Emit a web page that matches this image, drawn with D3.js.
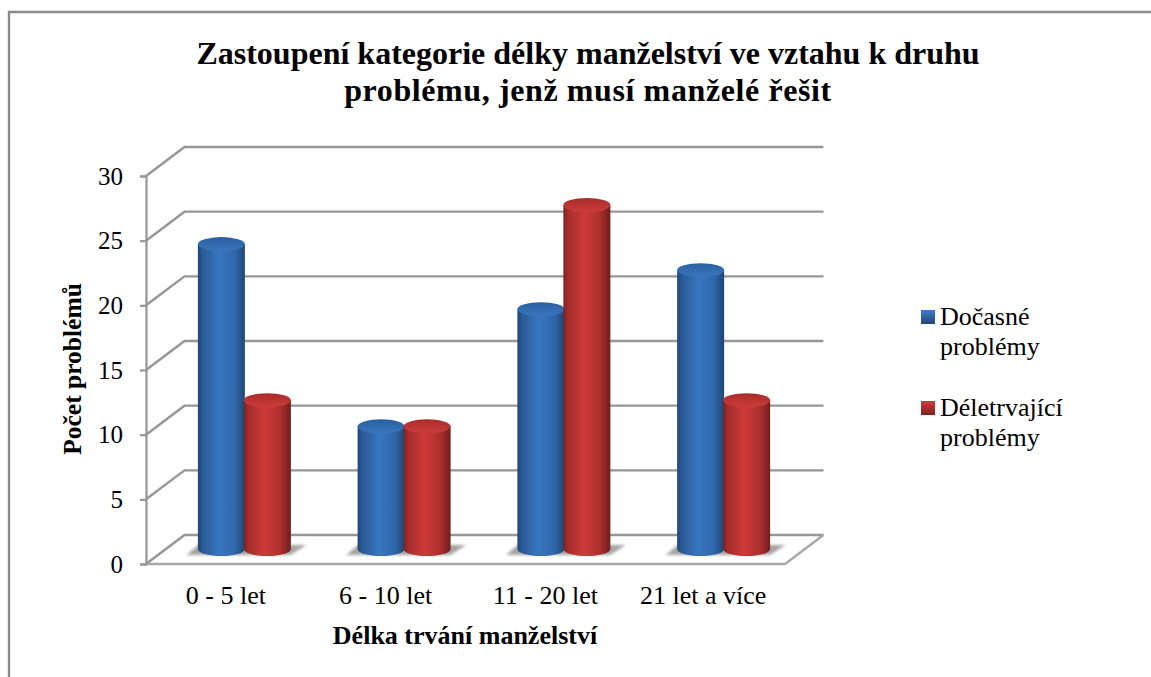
<!DOCTYPE html>
<html><head><meta charset="utf-8">
<script src="https://cdn.jsdelivr.net/npm/d3@7"></script>
<style>html,body{margin:0;padding:0;background:#fff}svg{display:block}text{font-family:"Liberation Serif",serif;fill:#000}</style>
</head><body><svg id="c" width="1151" height="677"></svg>
<script>
const categories=["0 - 5 let","6 - 10 let","11 - 20 let","21 let a více"];
const temporary=[24,10,19,22];
const lasting=[12,10,27,12];
const seriesNames=[["Dočasné","problémy"],["Déletrvající","problémy"]];
const yTicks=[0,5,10,15,20,25,30];
const titleLines=["Zastoupení kategorie délky manželství ve vztahu k druhu","problému, jenž musí manželé řešit"];

const svg=d3.select("#c");
const W=1151,H=677;
const axisX=146,axisRight=785,axisTop=176,axisBottom=564;
const depthX=38.5,depthY=-29;
const x=d3.scaleBand().domain(categories).range([axisX,axisRight]);
const y=d3.scaleLinear().domain([0,30]).range([axisBottom,axisTop]);
const barScale=d3.scaleLinear().domain([0,30]).range([556.5,166]);
const barBase=549;
const barW=47,ry=7,barShift=18.5;

const defs=svg.append("defs");
function grad(id,stops,vertical){
  const g=defs.append("linearGradient").attr("id",id);
  if(vertical)g.attr("x1",0).attr("x2",0).attr("y1",0).attr("y2",1);
  stops.forEach(([o,c])=>g.append("stop").attr("offset",o).attr("stop-color",c));
}
grad("blueBody",[[0,"#1f4677"],[.1,"#2a5a97"],[.45,"#3876c0"],[.78,"#3068aa"],[1,"#1f4675"]]);
grad("redBody",[[0,"#7c2120"],[.1,"#a42e2c"],[.45,"#cd3b39"],[.78,"#ac302e"],[1,"#701e1d"]]);
grad("blueLid",[[0,"#2a5f9f"],[1,"#3a76be"]],true);
grad("redLid",[[0,"#a82d2b"],[1,"#cc3c3a"]],true);
grad("blueKey",[[0,"#3f7cc6"],[1,"#1f4879"]],true);
grad("redKey",[[0,"#cf3d3b"],[1,"#7d2120"]],true);
const bf=defs.append("filter").attr("id","blur").attr("x","-20%").attr("y","-100%").attr("width","140%").attr("height","300%");
bf.append("feGaussianBlur").attr("stdDeviation","1.4");
defs.append("filter").attr("id","soft").append("feGaussianBlur").attr("stdDeviation","0.45");

// chart frame
svg.append("path").attr("d",`M9,${H}V12H${W}`).attr("fill","none").attr("stroke","#8a8a8a").attr("stroke-width",2.4);

// title
svg.append("g").selectAll("text").data(titleLines).join("text")
  .attr("x",588).attr("y",(d,i)=>64+i*37).attr("text-anchor","middle")
  .attr("letter-spacing",(d,i)=>i?0.6:0)
  .attr("font-size",32).attr("font-weight","bold").text(d=>d);

// gridlines (walls)
const grid=svg.append("g").attr("fill","none").attr("stroke","#969696").attr("stroke-width",2.4).attr("filter","url(#soft)");
yTicks.forEach(t=>{
  const p=d3.path();
  p.moveTo(axisX,y(t));p.lineTo(axisX+depthX,y(t)+depthY);p.lineTo(axisRight+depthX,y(t)+depthY);
  grid.append("path").attr("d",p.toString());
});
const floor=d3.path();
floor.moveTo(axisX,y(0));floor.lineTo(axisRight,y(0));floor.lineTo(axisRight+depthX,y(0)+depthY);
grid.append("path").attr("d",floor.toString()).attr("stroke","#a8a8a8");

// value axis
const yAxis=svg.append("g").attr("transform",`translate(${axisX},0)`)
  .call(d3.axisLeft(y).tickValues(yTicks).tickSize(6).tickPadding(17));
yAxis.select(".domain").attr("stroke","#969696").attr("stroke-width",2.2);
yAxis.selectAll("line").attr("stroke","#969696").attr("stroke-width",2.2);
yAxis.selectAll("text").attr("font-size",25).attr("font-family",'"Liberation Serif",serif').attr("fill","#000");

// category labels
svg.append("g").selectAll("text").data(categories).join("text")
  .attr("x",d=>x(d)+x.bandwidth()/2-(d===categories[3]?2:0)).attr("y",604)
  .attr("text-anchor","middle").attr("font-size",26).text(d=>d);

// axis titles
svg.append("text").attr("x",465).attr("y",644).attr("text-anchor","middle")
  .attr("font-size",26).attr("font-weight","bold").text("Délka trvání manželství");
svg.append("text").attr("transform","translate(81,369) rotate(-90)").attr("text-anchor","middle")
  .attr("font-size",25.5).attr("font-weight","bold").text("Počet problémů");

// bars
const barsData=[];
categories.forEach((c,i)=>{
  barsData.push({c,v:temporary[i],s:0});
  barsData.push({c,v:lasting[i],s:1});
});
const mid=c=>x(c)+x.bandwidth()/2+barShift;
const cx=d=>mid(d.c)+(d.s?23:-23);
svg.append("g").selectAll("path").data(categories).join("path")
  .attr("d",c=>{
    const m=mid(c);
    return d3.line()([[m-58,barBase+6],[m-46,barBase-4],[m+62,barBase-4],[m+46,barBase+6]])+"Z";
  })
  .attr("fill","#8c8c8c").attr("opacity",.8).attr("filter","url(#blur)");
const colors=[{lid:"blueLid",b:"blueBody"},{lid:"redLid",b:"redBody"}];
const bars=svg.append("g").selectAll("g").data(barsData).join("g");
bars.append("path").attr("d",d=>{
  const l=cx(d)-barW/2,r=cx(d)+barW/2,t=barScale(d.v),b=barBase;
  return `M${l},${t}L${l},${b}A${barW/2},${ry} 0 0 0 ${r},${b}L${r},${t}Z`;
}).attr("fill",d=>`url(#${colors[d.s].b})`);
bars.append("ellipse").attr("cx",cx).attr("cy",d=>barScale(d.v)).attr("rx",barW/2).attr("ry",ry)
  .attr("fill",d=>`url(#${colors[d.s].lid})`);

// legend
const legend=svg.append("g").selectAll("g").data(seriesNames).join("g")
  .attr("transform",(d,i)=>`translate(921,${317+i*91})`);
legend.append("rect").attr("x",0).attr("y",-7).attr("width",14).attr("height",14)
  .attr("fill",(d,i)=>i?"url(#redKey)":"url(#blueKey)");
legend.append("text").attr("x",19).attr("y",8).attr("font-size",26).text(d=>d[0]);
legend.append("text").attr("x",19).attr("y",38).attr("font-size",26).text(d=>d[1]);
</script></body></html>
